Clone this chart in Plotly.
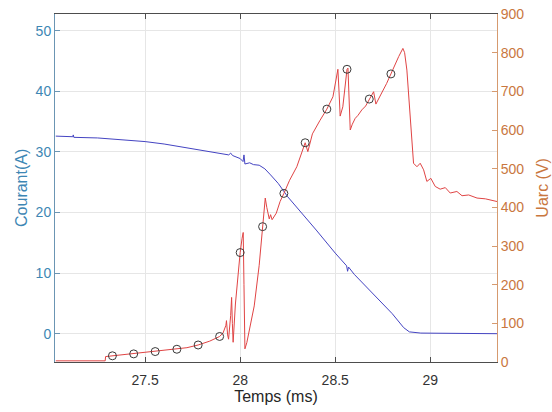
import plotly.graph_objects as go

# Current (A) vs time (ms)
t_cur = [27.03, 27.12, 27.122, 27.125, 27.25, 27.40, 27.50, 27.60, 27.70, 27.80, 27.90, 27.94,
         27.95, 27.96, 28.00, 28.015, 28.02, 28.025, 28.05, 28.07, 28.10, 28.13, 28.16, 28.20,
         28.25, 28.30, 28.40, 28.50, 28.56, 28.565, 28.57, 28.60, 28.70, 28.80, 28.86, 28.89,
         28.95, 29.10, 29.351]
courant = [32.6, 32.5, 32.8, 32.4, 32.3, 32.0, 31.7, 31.3, 30.8, 30.3, 29.7, 29.5,
           29.8, 29.4, 28.9, 28.4, 29.5, 28.0, 28.2, 27.9, 27.8, 27.2, 26.2, 24.8,
           22.6, 20.8, 17.1, 13.3, 11.2, 10.3, 11.0, 9.8, 6.5, 3.3, 1.0, 0.3,
           0.1, 0.05, 0.0]

# Arc voltage (V) vs time (ms)
t_arc = [27.03, 27.29, 27.292, 27.33, 27.44, 27.553, 27.667, 27.72, 27.779, 27.84, 27.892,
         27.91, 27.925, 27.928, 27.934, 27.939, 27.95, 27.955, 27.959, 27.963, 27.975, 27.99,
         28.0, 28.01, 28.016, 28.02, 28.025, 28.035, 28.05, 28.074, 28.10, 28.118, 28.132,
         28.14, 28.153, 28.16, 28.168, 28.19, 28.21, 28.23, 28.26, 28.298, 28.342, 28.356,
         28.38, 28.42, 28.456, 28.488, 28.505, 28.514, 28.52, 28.526, 28.54, 28.555, 28.562,
         28.567, 28.573, 28.579, 28.59, 28.605, 28.62, 28.64, 28.66, 28.679, 28.69, 28.702,
         28.714, 28.74, 28.77, 28.793, 28.81, 28.834, 28.856, 28.865, 28.877, 28.894, 28.912,
         28.93, 28.947, 28.965, 28.982, 29.003, 29.026, 29.052, 29.079, 29.105, 29.14, 29.167,
         29.202, 29.246, 29.29, 29.351]
uarc = [3, 3, 14, 16, 21, 27, 33, 37, 44, 54, 66,
        75, 95, 107, 70, 59, 120, 167, 100, 51, 150, 240,
        283, 320, 335, 200, 34, 50, 90, 145, 250, 350, 424,
        400, 370, 381, 368, 385, 415, 436, 470, 505, 567, 544,
        590, 625, 654, 686, 730, 757, 700, 636, 660, 730, 757,
        760, 680, 600, 615, 630, 638, 652, 662, 680, 690, 699,
        667, 690, 720, 745, 765, 790, 811, 800, 755, 635, 514,
        505, 514, 497, 467, 475, 454, 447, 451, 437, 441, 430,
        432, 424, 422, 415]

# Circle markers on the voltage curve
t_mark = [27.328, 27.44, 27.553, 27.667, 27.779, 27.892, 28.0, 28.118, 28.23, 28.342,
          28.456, 28.562, 28.679, 28.793]
u_mark = [16, 21, 27, 33, 44, 66, 283, 350, 436, 567, 654, 757, 680, 745]

x_ticks = [27.5, 28, 28.5, 29]
x_ticktext = ["27.5", "28", "28.5", "29"]
y_ticks = [0, 10, 20, 30, 40, 50]
y2_ticks = [0, 100, 200, 300, 400, 500, 600, 700, 800, 900]

BLUE_AX = "#3d86b4"
ORANGE_AX = "#c9773f"
FONT = "Liberation Sans, Arial, sans-serif"

fig = go.Figure()
fig.add_trace(go.Scatter(x=t_cur, y=courant, mode="lines",
                         line=dict(color="#4444c2", width=1), yaxis="y", showlegend=False))
fig.add_trace(go.Scatter(x=t_arc, y=uarc, mode="lines",
                         line=dict(color="#e04444", width=1), yaxis="y2", showlegend=False))
fig.add_trace(go.Scatter(x=t_mark, y=u_mark, mode="markers",
                         marker=dict(symbol="circle-open", size=8, color="#3a3a3a",
                                     line=dict(width=1)),
                         yaxis="y2", showlegend=False))

fig.update_layout(
    width=552, height=412,
    margin=dict(l=55, r=55, t=14, b=50),
    paper_bgcolor="white", plot_bgcolor="white",
    font=dict(family=FONT, size=14),
    xaxis=dict(range=[27.026, 29.351], tickvals=x_ticks, ticktext=x_ticktext,
               showgrid=True, gridcolor="#e6e6e6", zeroline=False, automargin=False,
               showline=True, linecolor="#4d4d4d", linewidth=1, mirror="ticks",
               ticks="inside", ticklen=5, tickcolor="#4d4d4d", ticklabelstandoff=5,
               tickfont=dict(color="#333333", size=14),
               title=dict(text="Temps (ms)", font=dict(color="#262626", size=16), standoff=4)),
    yaxis=dict(range=[-4.67, 52.75], tickvals=y_ticks, automargin=False,
               showgrid=True, gridcolor="#e6e6e6", zeroline=False,
               showline=True, linecolor="#6b95b3", linewidth=1,
               ticks="inside", ticklen=5, tickcolor="#6b95b3",
               tickfont=dict(color=BLUE_AX, size=14)),
    yaxis2=dict(range=[0, 900], tickvals=y2_ticks, overlaying="y", side="right",
                showgrid=False, zeroline=False, automargin=False,
                showline=True, linecolor="#d69a6f", linewidth=1,
                ticks="inside", ticklen=5, tickcolor="#d69a6f",
                tickfont=dict(color=ORANGE_AX, size=14)),
    annotations=[
        dict(text="Courant(A)", xref="paper", yref="paper", x=-0.077, y=0.5,
             xanchor="center", yanchor="middle", textangle=-90, showarrow=False,
             font=dict(color=BLUE_AX, size=16)),
        dict(text="Uarc (V)", xref="paper", yref="paper", x=1.101, y=0.5,
             xanchor="center", yanchor="middle", textangle=-90, showarrow=False,
             font=dict(color=ORANGE_AX, size=16)),
    ],
)

fig.write_html("out.html", config={"displayModeBar": False},
               post_script="document.body.style.margin='0px';document.body.style.overflow='hidden';")
